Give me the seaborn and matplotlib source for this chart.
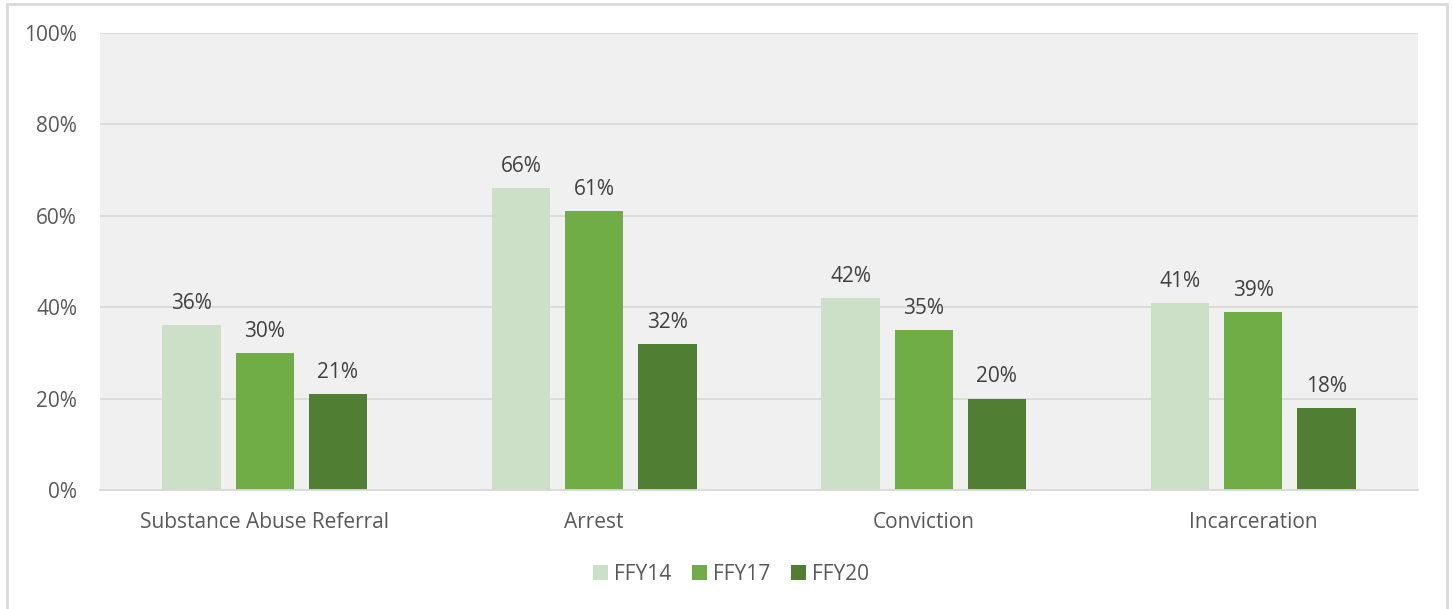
import matplotlib
matplotlib.use("Agg")
import matplotlib.pyplot as plt
import seaborn as sns
import pandas as pd
from matplotlib.patches import Rectangle
from matplotlib.ticker import FuncFormatter, MultipleLocator

categories = ["Substance Abuse Referral", "Arrest", "Conviction", "Incarceration"]
series = ["FFY14", "FFY17", "FFY20"]
ffy14 = [36, 66, 42, 41]
ffy17 = [30, 61, 35, 39]
ffy20 = [21, 32, 20, 18]
colors = ["#CCDFC7", "#70AD47", "#507E32"]

rows = []
for s, vals in zip(series, [ffy14, ffy17, ffy20]):
    for c, v in zip(categories, vals):
        rows.append({"category": c, "series": s, "value": v})
df = pd.DataFrame(rows)

sns.set_theme(style="white")
plt.rcParams["font.family"] = ["Open Sans", "DejaVu Sans"]

fig = plt.figure(figsize=(14.53, 6.09), dpi=100)
ax = fig.add_axes([100/1453, 1-490/609, 1318/1453, 457/609])
ax.set_facecolor("#F0F0F0")

sns.barplot(data=df, x="category", y="value", hue="series", order=categories,
            hue_order=series, palette=colors, width=0.665, gap=0.2,
            saturation=1, ax=ax, legend=True, linewidth=0)

for cont in ax.containers:
    ax.bar_label(cont, labels=[f"{int(round(v))}%" for v in cont.datavalues],
                 padding=8, fontsize=15, color="#404040")

ax.set_ylim(0, 100)
ax.set_xlim(-0.5, 3.5)
ax.yaxis.set_major_locator(MultipleLocator(20))
ax.yaxis.set_major_formatter(FuncFormatter(lambda v, p: f"{int(v)}%"))
ax.grid(axis="y", color="#D9D9D9", linewidth=1.3)
ax.set_axisbelow(True)
for s in ["top", "right", "left"]:
    ax.spines[s].set_visible(False)
ax.spines["bottom"].set_color("#D9D9D9")
ax.spines["bottom"].set_linewidth(1.3)
ax.tick_params(axis="both", length=0, labelsize=15, colors="#595959")
ax.tick_params(axis="x", pad=16)
ax.tick_params(axis="y", pad=16.5)
ax.set_xlabel("")
ax.set_ylabel("")

leg = ax.legend(loc="center", bbox_to_anchor=(0.479, -0.185), ncol=3, frameon=False,
                fontsize=15, handlelength=0.7, handleheight=0.7, columnspacing=1.0,
                handletextpad=0.3)
for t in leg.get_texts():
    t.set_color("#595959")

# outer chart frame
fig.patches.append(Rectangle((6.5/1453, -0.05), 1440/1453, 1.05 - 4/609,
                             transform=fig.transFigure, fill=False,
                             edgecolor="#D9D9D9", linewidth=2))

fig.savefig("out.png", dpi=100)
